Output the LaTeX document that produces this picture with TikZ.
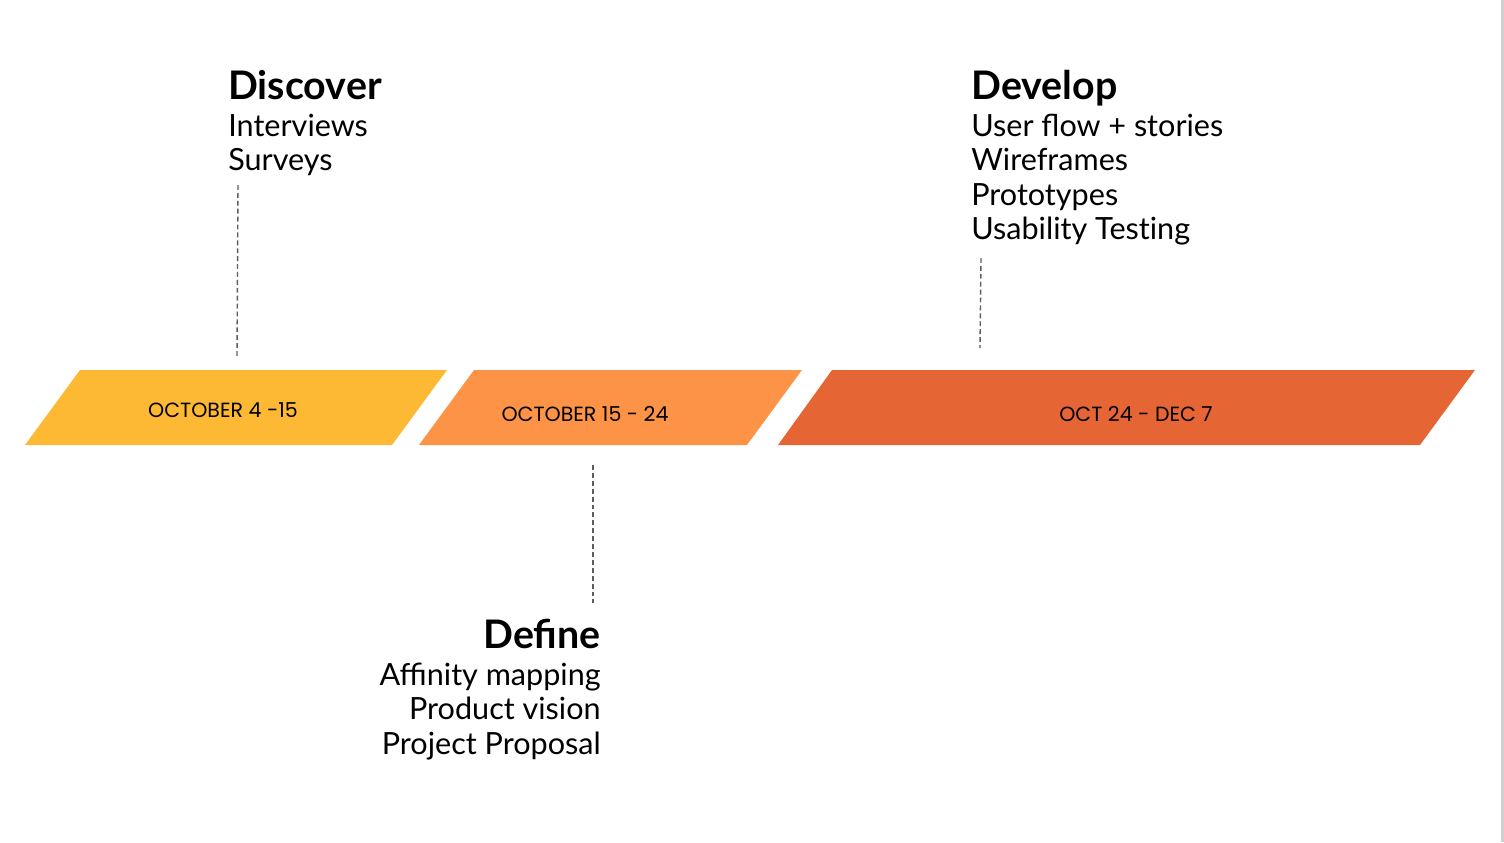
\documentclass[tikz,border=0pt]{standalone}
\usepackage{fontspec}
\setmainfont{Lato}
\newfontfamily\datefont{Poppins}
\definecolor{faseUno}{HTML}{FDB933}
\definecolor{faseDos}{HTML}{FD9346}
\definecolor{faseTres}{HTML}{E66535}
\definecolor{guia}{HTML}{5E5E5E}
\definecolor{borde}{HTML}{D0D0D0}
\begin{document}
\begin{tikzpicture}[
  x=0.02cm, y=-0.02cm,
  fecha/.style={font=\datefont\fontsize{11.7}{14}\selectfont, text=black, inner sep=0pt},
  titulo/.style={font=\bfseries\fontsize{22.4}{26}\selectfont, inner sep=0pt},
  tarea/.style={font=\fontsize{17.4}{20}\selectfont, inner sep=0pt},
  guide/.style={draw=guia, line width=0.8pt, dash pattern=on 2.8pt off 1.7pt}
]
  \useasboundingbox (0,0) rectangle (1504,842);
  \fill[borde] (1501,0) rectangle (1504,842);   % borde derecho

  % --- FASES (paralelogramos) ---
  \fill[faseUno]  (80,370) -- (447,370) -- (392,445) -- (25,445) -- cycle;
  \fill[faseDos]  (474,370) -- (802,370) -- (747,445) -- (419,445) -- cycle;
  \fill[faseTres] (832,370) -- (1475,370) -- (1420,445) -- (778,445) -- cycle;

  \node[fecha] (f1) at (223,410) {OCTOBER 4 -15};
  \node[fecha] (f2) at (585,414) {OCTOBER 15 - 24};
  \node[fecha] (f3) at (1136,414) {OCT 24 - DEC 7};

  % --- DISCOVER ---
  \node[titulo, anchor=base west] (t1) at (228,99) {Discover};
  \node[tarea, anchor=base west] (t1_1) at (228,136) {Interviews};
  \node[tarea, anchor=base west] (t1_2) at (228,170) {Surveys};

  % --- DEFINE ---
  \node[titulo, anchor=base east] (t2) at (601,648) {Define};
  \node[tarea, anchor=base east] (t2_1) at (601,685) {Affinity mapping};
  \node[tarea, anchor=base east] (t2_2) at (601,719) {Product vision};
  \node[tarea, anchor=base east] (t2_3) at (601,754) {Project Proposal};

  % --- DEVELOP ---
  \node[titulo, anchor=base west] (t3) at (971,99) {Develop};
  \node[tarea, anchor=base west] (t3_1) at (971,136) {User flow + stories};
  \node[tarea, anchor=base west] (t3_2) at (971,170) {Wireframes};
  \node[tarea, anchor=base west] (t3_3) at (971,205) {Prototypes};
  \node[tarea, anchor=base west] (t3_4) at (971,239) {Usability Tes\mbox{t}ing};

  % Guias punteadas
  \coordinate (g1a) at (238,185); \coordinate (g1b) at (237,356);
  \coordinate (g2a) at (593,465); \coordinate (g2b) at (593,603);
  \coordinate (g3a) at (981,258); \coordinate (g3b) at (980,348);
  \draw[guide] (g1a) -- (g1b);
  \draw[guide] (g2a) -- (g2b);
  \draw[guide] (g3a) -- (g3b);
\end{tikzpicture}
\end{document}
